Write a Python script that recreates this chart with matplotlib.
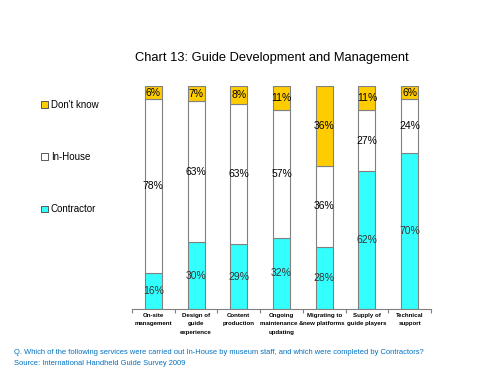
import matplotlib.pyplot as plt
from matplotlib.patches import Patch

plt.rcParams['font.family'] = ['Liberation Sans', 'DejaVu Sans']

categories = ['On-site\nmanagement', 'Design of\nguide\nexperience', 'Content\nproduction',
              'Ongoing\nmaintenance &\nupdating', 'Migrating to\nnew platforms',
              'Supply of\nguide players', 'Technical\nsupport']
contractor = [16, 30, 29, 32, 28, 62, 70]
in_house = [78, 63, 63, 57, 36, 27, 24]
dont_know = [6, 7, 8, 11, 36, 11, 6]

cyan = '#33FFFF'
gold = '#FFCC00'
edge = '#808080'

fig = plt.figure(figsize=(5, 3.75), dpi=100)
ax = fig.add_axes([0.264, 0.176, 0.598, 0.595])

x = range(len(categories))
w = 0.4
ax.bar(x, contractor, w, color=cyan, edgecolor=edge, linewidth=0.8)
ax.bar(x, in_house, w, bottom=contractor, color='white', edgecolor=edge, linewidth=0.8)
tops = [c + h for c, h in zip(contractor, in_house)]
ax.bar(x, dont_know, w, bottom=tops, color=gold, edgecolor=edge, linewidth=0.8)

for i in x:
    ax.text(i, contractor[i] / 2, f'{contractor[i]}%', ha='center', va='center',
            fontsize=7.5, color='#333333')
    ax.text(i, contractor[i] + in_house[i] / 2, f'{in_house[i]}%', ha='center', va='center',
            fontsize=7.5, color='black')
    ax.text(i, tops[i] + dont_know[i] / 2, f'{dont_know[i]}%', ha='center', va='center',
            fontsize=7.5, color='black')

ax.set_xlim(-0.5, len(categories) - 0.5)
ax.set_ylim(0, 100)
ax.set_yticks([])
for s in ['left', 'right', 'top']:
    ax.spines[s].set_visible(False)
ax.spines['bottom'].set_color(edge)
ax.set_xticks([i - 0.5 for i in range(len(categories) + 1)], minor=False)
ax.set_xticklabels([])
ax.tick_params(axis='x', which='major', length=3, color=edge)
ax.set_xticks(list(x), minor=True)
ax.set_xticklabels(categories, minor=True, fontsize=4.4, fontweight='bold', va='top',
                   linespacing=1.8)
ax.tick_params(axis='x', which='minor', length=0, pad=3)

fig.text(0.544, 0.845, 'Chart 13: Guide Development and Management', ha='center',
         va='center', fontsize=9.3)

handles = [Patch(facecolor=gold, edgecolor='#404040', linewidth=0.6),
           Patch(facecolor='white', edgecolor='#404040', linewidth=0.6),
           Patch(facecolor=cyan, edgecolor='#404040', linewidth=0.6)]
fig.legend(handles, ["Don't know", 'In-House', 'Contractor'], loc='upper left',
           bbox_to_anchor=(0.065, 0.757), frameon=False, fontsize=7, labelspacing=4.35,
           handlelength=0.7, handleheight=0.7, handletextpad=0.3)

blue = '#0070C0'
fig.text(0.028, 0.061, 'Q. Which of the following services were carried out In-House by museum staff, '
         'and which were completed by Contractors?', fontsize=5.4, color=blue, va='center')
fig.text(0.028, 0.03, 'Source: International Handheld Guide Survey 2009', fontsize=5.4,
         color=blue, va='center')

fig.savefig('out.png', dpi=100)
